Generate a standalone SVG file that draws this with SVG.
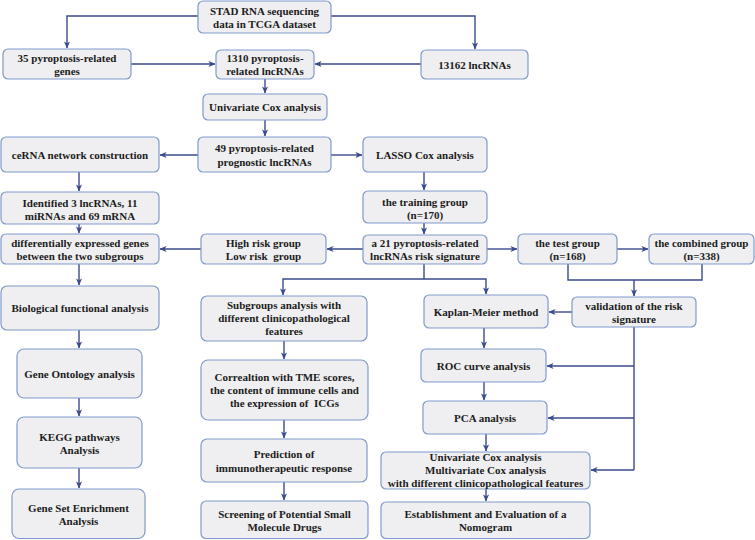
<svg xmlns="http://www.w3.org/2000/svg" width="755" height="540" viewBox="0 0 755 540">
<defs>
<marker id="ah" viewBox="0 0 8 8" refX="7.5" refY="4" markerWidth="7" markerHeight="7" markerUnits="userSpaceOnUse" orient="auto">
<path d="M0,0.5 L8,4 L0,7.5 L2.2,4 Z" fill="#3b4a8e"/>
</marker>
<style>
.b{fill:#efeff1;stroke:#7f99cc;stroke-width:1.2}
.t{font-family:"Liberation Serif","Times New Roman",serif;font-weight:bold;font-size:11px;fill:#1c1c1c;text-anchor:middle}
.c{fill:none;stroke:#3b4a8e;stroke-width:1.4}
.a{marker-end:url(#ah)}
</style>
</defs>
<rect width="755" height="540" fill="#ffffff"/>
<g id="connectors">
<path class="c a" d="M198,16 H67 V48"/>
<path class="c a" d="M331,16 H475 V49"/>
<path class="c a" d="M131,64 H215"/>
<path class="c a" d="M421,64 H315"/>
<path class="c a" d="M265,79 V93"/>
<path class="c a" d="M265,120 V136"/>
<path class="c a" d="M198,155 H160"/>
<path class="c a" d="M331,155 H362"/>
<path class="c a" d="M79,172 V191"/>
<path class="c a" d="M79,224 V233"/>
<path class="c a" d="M424,172 V190"/>
<path class="c a" d="M424,223 V234"/>
<path class="c a" d="M201,249 H160"/>
<path class="c a" d="M363,249 H327"/>
<path class="c a" d="M487,249 H517"/>
<path class="c a" d="M617,249 H648"/>
<path class="c a" d="M79,264 V285"/>
<path class="c a" d="M79,330 V348"/>
<path class="c a" d="M79,398 V416"/>
<path class="c a" d="M79,468 V488"/>
<path class="c" d="M424,264 V279"/>
<path class="c a" d="M424,279 H283 V295"/>
<path class="c a" d="M424,279 H486 V294"/>
<path class="c" d="M568,264 V280 H702 V264"/>
<path class="c a" d="M634,280 V296"/>
<path class="c a" d="M572,312 H549"/>
<path class="c a" d="M484,328 V348"/>
<path class="c" d="M634,327 V470"/>
<path class="c a" d="M634,366 H547"/>
<path class="c a" d="M634,418 H548"/>
<path class="c a" d="M634,470 H591"/>
<path class="c a" d="M484,382 V400"/>
<path class="c a" d="M486,434 V451"/>
<path class="c a" d="M486,489 V501"/>
<path class="c a" d="M284,341 V359"/>
<path class="c a" d="M284,420 V438"/>
<path class="c a" d="M284,482 V500"/>
</g>
<g id="stad"><rect class="b" x="198" y="1" width="133" height="32" rx="5"/><text class="t" x="264.5" y="15">STAD RNA sequencing</text><text class="t" x="264.5" y="28">data in TCGA dataset</text></g>
<g id="genes35"><rect class="b" x="3" y="49" width="128" height="30" rx="5"/><text class="t" x="67" y="62">35 pyroptosis-related</text><text class="t" x="67" y="75">genes</text></g>
<g id="lnc1310"><rect class="b" x="216" y="50" width="98" height="29" rx="5"/><text class="t" x="265" y="62">1310 pyroptosis-</text><text class="t" x="265" y="75">related lncRNAs</text></g>
<g id="lnc13162"><rect class="b" x="421" y="50" width="107" height="29" rx="5"/><text class="t" x="474.5" y="68.5">13162 lncRNAs</text></g>
<g id="unicox"><rect class="b" x="203" y="94" width="124" height="26" rx="5"/><text class="t" x="265" y="111">Univariate Cox analysis</text></g>
<g id="prog49"><rect class="b" x="198" y="137" width="133" height="35" rx="5"/><text class="t" x="264.5" y="152">49 pyroptosis-related</text><text class="t" x="264.5" y="165.5">prognostic lncRNAs</text></g>
<g id="cerna"><rect class="b" x="1" y="137" width="158" height="35" rx="5"/><text class="t" x="80" y="159">ceRNA network construction</text></g>
<g id="lasso"><rect class="b" x="363" y="137" width="124" height="35" rx="5"/><text class="t" x="425" y="159">LASSO Cox analysis</text></g>
<g id="identified"><rect class="b" x="1" y="192" width="158" height="32" rx="5"/><text class="t" x="80" y="207">Identified 3 lncRNAs, 11</text><text class="t" x="80" y="219.5">miRNAs and 69 mRNA</text></g>
<g id="training"><rect class="b" x="363" y="191" width="124" height="32" rx="5"/><text class="t" x="425" y="206">the training group</text><text class="t" x="425" y="218.5">(n=170)</text></g>
<g id="diff"><rect class="b" x="1" y="234" width="158" height="30" rx="5"/><text class="t" x="80" y="247">differentially expressed genes</text><text class="t" x="80" y="260">between the two subgroups</text></g>
<g id="highlow"><rect class="b" x="201" y="234" width="125" height="30" rx="5"/><text class="t" x="263.5" y="247">High risk group</text><text class="t" x="263.5" y="260" xml:space="preserve">Low risk  group</text></g>
<g id="signature"><rect class="b" x="363" y="235" width="124" height="29" rx="5"/><text class="t" x="425" y="247">a 21 pyroptosis-related</text><text class="t" x="425" y="260">lncRNAs risk signature</text></g>
<g id="test"><rect class="b" x="518" y="234" width="99" height="30" rx="5"/><text class="t" x="567.5" y="247">the test group</text><text class="t" x="567.5" y="260">(n=168)</text></g>
<g id="combined"><rect class="b" x="649" y="234" width="105" height="30" rx="5"/><text class="t" x="701.5" y="247">the combined group</text><text class="t" x="701.5" y="260">(n=338)</text></g>
<g id="bio"><rect class="b" x="1" y="286" width="158" height="44" rx="6"/><text class="t" x="80" y="312">Biological functional analysis</text></g>
<g id="subgroups"><rect class="b" x="201" y="296" width="166" height="45" rx="6"/><text class="t" x="284" y="309">Subgroups analysis with</text><text class="t" x="284" y="322">different clinicopathological</text><text class="t" x="284" y="335">features</text></g>
<g id="kaplan"><rect class="b" x="424" y="295" width="124" height="33" rx="5"/><text class="t" x="486" y="316">Kaplan-Meier method</text></g>
<g id="validation"><rect class="b" x="572" y="297" width="124" height="30" rx="5"/><text class="t" x="634" y="310">validation of the risk</text><text class="t" x="634" y="323">signature</text></g>
<g id="go"><rect class="b" x="17" y="349" width="125" height="49" rx="7"/><text class="t" x="79.5" y="378">Gene Ontology analysis</text></g>
<g id="correlation"><rect class="b" x="201" y="360" width="167" height="60" rx="7"/><text class="t" x="284.5" y="381">Correaltion with TME scores,</text><text class="t" x="284.5" y="394">the content of immune cells and</text><text class="t" x="284.5" y="407" xml:space="preserve">the expression of  ICGs</text></g>
<g id="roc"><rect class="b" x="421" y="349" width="125" height="33" rx="5"/><text class="t" x="483.5" y="370">ROC curve analysis</text></g>
<g id="kegg"><rect class="b" x="17" y="417" width="125" height="51" rx="7"/><text class="t" x="79.5" y="441">KEGG pathways</text><text class="t" x="79.5" y="453.5">Analysis</text></g>
<g id="pca"><rect class="b" x="423" y="401" width="124" height="33" rx="5"/><text class="t" x="485" y="422">PCA analysis</text></g>
<g id="prediction"><rect class="b" x="201" y="439" width="166" height="43" rx="6"/><text class="t" x="284" y="458">Prediction of</text><text class="t" x="284" y="472">immunotherapeutic response</text></g>
<g id="unimulti"><rect class="b" x="381" y="452" width="209" height="37" rx="5"/><text class="t" x="485.5" y="461">Univariate Cox analysis</text><text class="t" x="485.5" y="474">Multivariate Cox analysis</text><text class="t" x="485.5" y="487">with different clinicopathological features</text></g>
<g id="gsea"><rect class="b" x="12" y="489" width="133" height="49.5" rx="7"/><text class="t" x="78.5" y="512">Gene Set Enrichment</text><text class="t" x="78.5" y="525">Analysis</text></g>
<g id="screening"><rect class="b" x="201" y="501" width="167" height="37.5" rx="5"/><text class="t" x="284.5" y="518">Screening of Potential Small</text><text class="t" x="284.5" y="531">Molecule Drugs</text></g>
<g id="establish"><rect class="b" x="381" y="502" width="209" height="36.5" rx="5"/><text class="t" x="485.5" y="518">Establishment and Evaluation of a</text><text class="t" x="485.5" y="531">Nomogram</text></g>
</svg>
